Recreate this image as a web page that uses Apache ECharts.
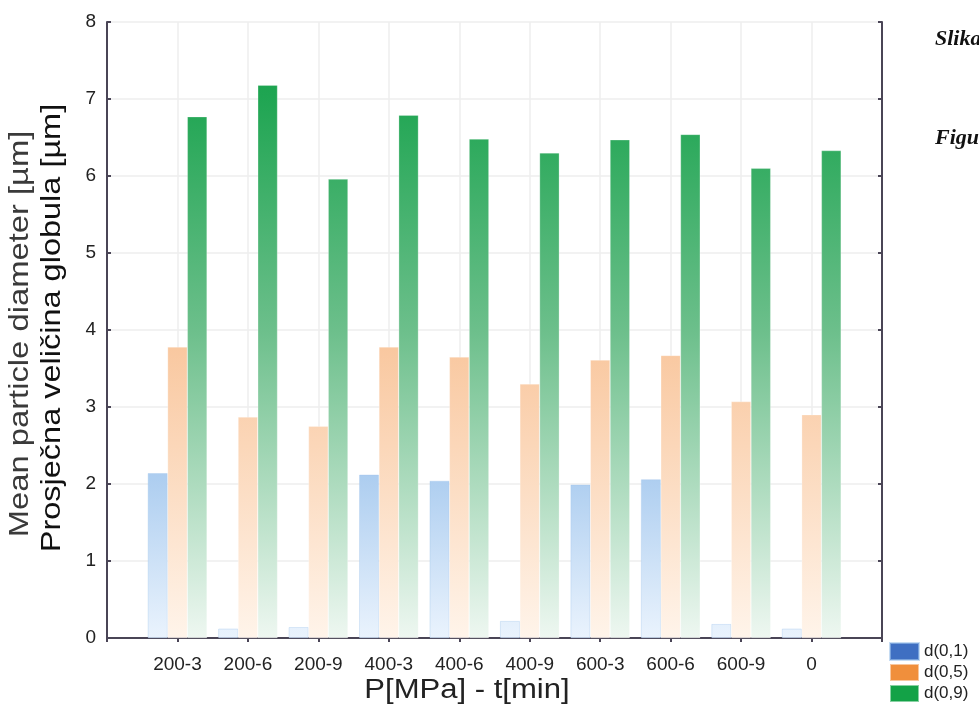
<!DOCTYPE html>
<html>
<head>
<meta charset="utf-8">
<script src="https://cdn.jsdelivr.net/npm/echarts@6/dist/echarts.min.js"></script>
<style>
  html, body { margin: 0; padding: 0; background: #fff; }
  #chart { width: 979px; height: 713px; }
</style>
</head>
<body>
<div id="chart"></div>
<script>
// categories (empty slots at both ends give the padding seen in the original)
const categories = ['200-3', '200-6', '200-9', '400-3', '400-6', '400-9', '600-3', '600-6', '600-9', '0'];
const d01 = [2.14, 0.12, 0.14, 2.12, 2.04, 0.22, 1.99, 2.06, 0.18, 0.12];
const d05 = [3.78, 2.87, 2.75, 3.78, 3.65, 3.30, 3.61, 3.67, 3.07, 2.90];
const d09 = [6.77, 7.18, 5.96, 6.79, 6.48, 6.30, 6.47, 6.54, 6.10, 6.33];
const yTicks = [0, 1, 2, 3, 4, 5, 6, 7, 8];

const gridTop = 22, gridBottom = 638;
const pad = arr => ['-'].concat(arr, ['-']);
const axisCats = [''].concat(categories, ['']);

const chart = echarts.init(document.getElementById('chart'));

// gradient in plot coordinates: strong at the top of the plot, almost white at the bottom
function grad(stops) {
  return new echarts.graphic.LinearGradient(0, gridTop, 0, gridBottom, stops, true);
}

const frameColor = '#4a4556';

const option = {
  animation: false,
  grid: { left: 107, right: 97, top: gridTop, bottom: 713 - gridBottom },
  legend: {
    orient: 'vertical',
    left: 889,
    top: 642,
    padding: 0,
    itemWidth: 29,
    itemHeight: 17,
    itemGap: 2,
    icon: 'rect',
    textStyle: { fontSize: 17, color: '#222', fontFamily: 'Liberation Sans' },
    data: [
      { name: 'd(0,1)', itemStyle: { color: '#3f6fc2' } },
      { name: 'd(0,5)', itemStyle: { color: '#f08f3c' } },
      { name: 'd(0,9)', itemStyle: { color: '#13a247' } }
    ]
  },
  xAxis: [{
    type: 'category',
    data: axisCats,
    boundaryGap: false,
    axisLine: { lineStyle: { color: frameColor, width: 2 } },
    axisTick: { inside: true, length: 4, lineStyle: { color: frameColor, width: 2 } },
    axisLabel: { interval: 0, fontSize: 19, color: '#222', margin: 17, fontFamily: 'Liberation Sans' },
    splitLine: { show: true, lineStyle: { color: '#eeeeee', width: 1.5 } }
  }, {
    type: 'category',
    data: axisCats,
    boundaryGap: false,
    position: 'top',
    axisLine: { lineStyle: { color: frameColor, width: 2 } },
    axisTick: { inside: true, length: 4, lineStyle: { color: frameColor, width: 2 } },
    axisLabel: { show: false },
    splitLine: { show: false }
  }],
  yAxis: [{
    type: 'value',
    min: 0,
    max: 8,
    interval: 1,
    axisLine: { show: true, lineStyle: { color: frameColor, width: 2 } },
    axisTick: { show: true, inside: true, length: 4, lineStyle: { color: frameColor, width: 2 } },
    axisLabel: {
      fontSize: 19, color: '#222', margin: 11, fontFamily: 'Liberation Sans',
      formatter: v => yTicks.includes(v) ? String(v) : ''
    },
    splitLine: { lineStyle: { color: '#eeeeee', width: 1.5 } }
  }, {
    type: 'value',
    min: 0,
    max: 8,
    interval: 1,
    position: 'right',
    axisLine: { show: true, lineStyle: { color: frameColor, width: 2 } },
    axisTick: { show: true, inside: true, length: 4, lineStyle: { color: frameColor, width: 2 } },
    axisLabel: { show: false },
    splitLine: { show: false }
  }],
  series: [{
    name: 'd(0,1)',
    type: 'bar',
    data: pad(d01),
    barWidth: '28%',
    barGap: '0%',
    itemStyle: {
      color: grad([
        { offset: 0, color: '#4c86dc' },
        { offset: 0.72, color: '#a9cbef' },
        { offset: 1, color: '#eaf3fd' }
      ]),
      borderColor: 'rgba(160,196,235,0.6)',
      borderWidth: 0.6
    }
  }, {
    name: 'd(0,5)',
    type: 'bar',
    data: pad(d05),
    barWidth: '28%',
    itemStyle: {
      color: grad([
        { offset: 0, color: '#f2923f' },
        { offset: 0.53, color: '#f9c8a0' },
        { offset: 1, color: '#fff4ea' }
      ]),
      borderColor: 'rgba(255,255,255,0.5)',
      borderWidth: 0.5
    }
  }, {
    name: 'd(0,9)',
    type: 'bar',
    data: pad(d09),
    barWidth: '28%',
    itemStyle: {
      color: grad([
        { offset: 0, color: '#139f45' },
        { offset: 0.12, color: '#1fa552' },
        { offset: 0.5, color: '#6cbf8b' },
        { offset: 1, color: '#eef7f1' }
      ]),
      borderColor: 'rgba(255,255,255,0.5)',
      borderWidth: 0.5
    }
  }],
  graphic: [{
    type: 'text',
    x: 20,
    y: 334,
    rotation: Math.PI / 2,
    scaleX: 1.17,
    style: {
      text: 'Mean particle diameter [µm]',
      fontSize: 28,
      fontFamily: 'Liberation Sans',
      fill: '#3a3a3a',
      align: 'center',
      verticalAlign: 'middle'
    }
  }, {
    type: 'text',
    x: 52,
    y: 328,
    rotation: Math.PI / 2,
    scaleX: 1.16,
    style: {
      text: 'Prosječna veličina globula [µm]',
      fontSize: 28,
      fontFamily: 'Liberation Sans',
      fill: '#111',
      align: 'center',
      verticalAlign: 'middle'
    }
  }, {
    type: 'text',
    x: 467,
    y: 691,
    scaleX: 1.15,
    style: {
      text: 'P[MPa] - t[min]',
      fontSize: 27,
      fontFamily: 'Liberation Sans',
      fill: '#222',
      align: 'center',
      verticalAlign: 'middle'
    }
  }, {
    type: 'text',
    left: 935,
    top: 28,
    style: {
      text: 'Slika',
      font: 'italic bold 22px "Liberation Serif"',
      fill: '#111'
    }
  }, {
    type: 'text',
    left: 935,
    top: 127,
    style: {
      text: 'Figure',
      font: 'italic bold 22px "Liberation Serif"',
      fill: '#111'
    }
  }]
};

chart.setOption(option);
window.addEventListener('resize', () => chart.resize());
</script>
</body>
</html>
